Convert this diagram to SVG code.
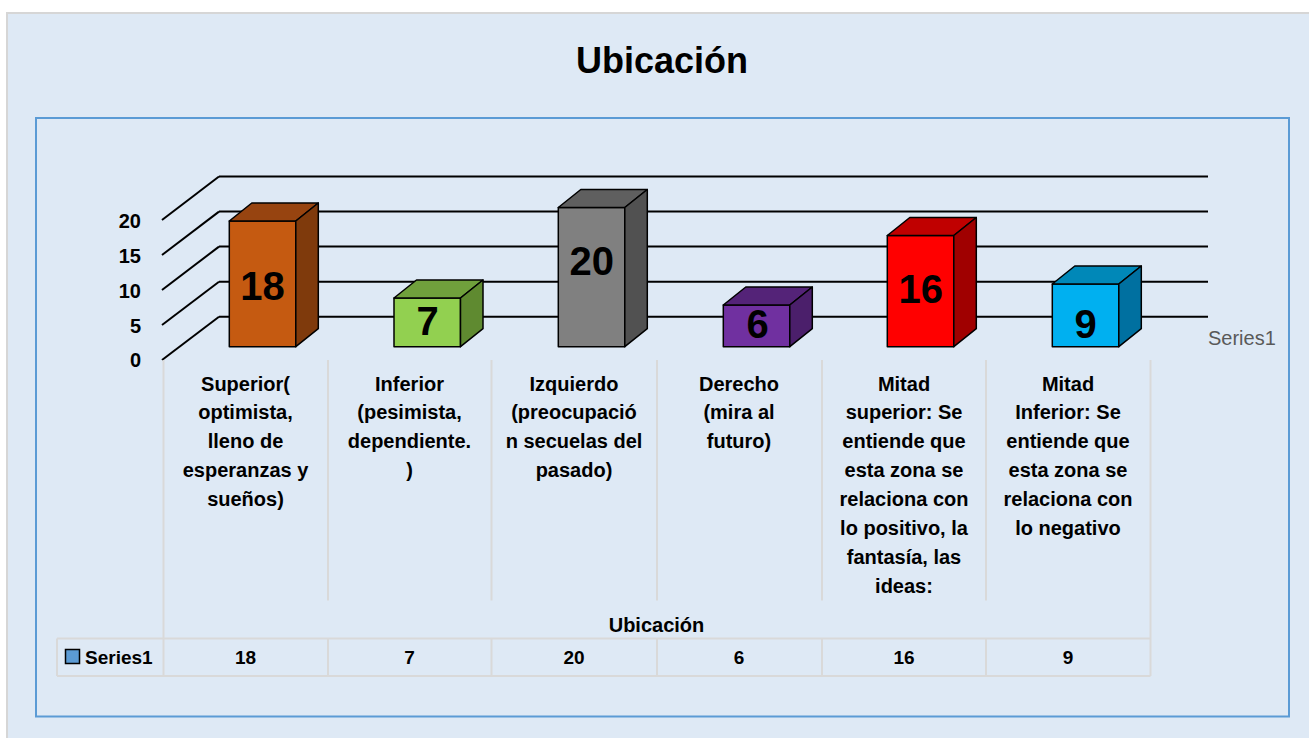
<svg xmlns="http://www.w3.org/2000/svg" width="1309" height="738" viewBox="0 0 1309 738">
<style>
text{font-family:"Liberation Sans",Arial,sans-serif;fill:#000}
.b{font-weight:bold}
.cat{font-weight:bold;font-size:20px;text-anchor:middle}
.ax{font-weight:bold;font-size:20px;text-anchor:end}
.val{font-weight:bold;font-size:19px;text-anchor:middle}
.dl{font-weight:bold;font-size:40px;text-anchor:middle}
.grid line{stroke:#000;stroke-width:2}
.tbl line{stroke:#d9d9d9;stroke-width:2}
.bar rect,.bar polygon{stroke:#000;stroke-width:1.5;stroke-linejoin:round}
</style>
<rect x="0" y="0" width="1309" height="738" fill="#ffffff"/>
<rect x="7" y="13" width="1310" height="740" fill="#dee9f5" stroke="#d6d6d6" stroke-width="2"/>
<text x="662" y="73" class="b" font-size="36" text-anchor="middle">Ubicación</text>
<rect x="36" y="118" width="1253" height="598.5" fill="none" stroke="#5b9bd5" stroke-width="2"/>

<g id="gridlines" class="grid">
<line x1="219" y1="176.5" x2="1208" y2="176.5"/>
<line x1="219" y1="211.6" x2="1208" y2="211.6"/>
<line x1="219" y1="246.6" x2="1208" y2="246.6"/>
<line x1="219" y1="281.7" x2="1208" y2="281.7"/>
<line x1="219" y1="316.7" x2="1208" y2="316.7"/>
<line x1="219" y1="176.5" x2="162" y2="220"/>
<line x1="219" y1="211.6" x2="162" y2="255"/>
<line x1="219" y1="246.6" x2="162" y2="290"/>
<line x1="219" y1="281.7" x2="162" y2="325"/>
<line x1="219" y1="316.7" x2="162" y2="360"/>
</g>

<g id="axis-labels">
<text x="141" y="228" class="ax">20</text>
<text x="141" y="263" class="ax">15</text>
<text x="141" y="298" class="ax">10</text>
<text x="141" y="332.5" class="ax">5</text>
<text x="141" y="367" class="ax">0</text>
</g>

<g id="bar-superior" class="bar">
<rect x="229.3" y="221" width="66.5" height="125.7" fill="#c55a11"/>
<polygon points="229.3,221 251.8,203 318.3,203 295.8,221" fill="#974410"/>
<polygon points="295.8,221 318.3,203 318.3,328.7 295.8,346.7" fill="#7f3a0c"/>
<text x="262.5" y="300" class="dl">18</text>
</g>
<g id="bar-inferior" class="bar">
<rect x="394" y="298" width="66.5" height="48.7" fill="#92d050"/>
<polygon points="394,298 416.5,280 483,280 460.5,298" fill="#70a03c"/>
<polygon points="460.5,298 483,280 483,328.7 460.5,346.7" fill="#5f8a30"/>
<text x="427.5" y="335" class="dl">7</text>
</g>
<g id="bar-izquierdo" class="bar">
<rect x="558.3" y="207.5" width="66.5" height="139.2" fill="#808080"/>
<polygon points="558.3,207.5 580.8,189.5 647.3,189.5 624.8,207.5" fill="#5f5f5f"/>
<polygon points="624.8,207.5 647.3,189.5 647.3,328.7 624.8,346.7" fill="#515151"/>
<text x="591.7" y="275" class="dl">20</text>
</g>
<g id="bar-derecho" class="bar">
<rect x="723.3" y="305" width="66.5" height="41.7" fill="#7030a0"/>
<polygon points="723.3,305 745.8,287 812.3,287 789.8,305" fill="#542378"/>
<polygon points="789.8,305 812.3,287 812.3,328.7 789.8,346.7" fill="#4b1f6b"/>
<text x="757.5" y="338.3" class="dl">6</text>
</g>
<g id="bar-mitad-superior" class="bar">
<rect x="887.3" y="235.5" width="66.5" height="111.2" fill="#ff0000"/>
<polygon points="887.3,235.5 909.8,217.5 976.3,217.5 953.8,235.5" fill="#c00000"/>
<polygon points="953.8,235.5 976.3,217.5 976.3,328.7 953.8,346.7" fill="#a00000"/>
<text x="920.8" y="303.3" class="dl">16</text>
</g>
<g id="bar-mitad-inferior" class="bar">
<rect x="1052.3" y="284" width="66.5" height="62.7" fill="#00b0f0"/>
<polygon points="1052.3,284 1074.8,266 1141.3,266 1118.8,284" fill="#0088b8"/>
<polygon points="1118.8,284 1141.3,266 1141.3,328.7 1118.8,346.7" fill="#0070a0"/>
<text x="1085.5" y="338.3" class="dl">9</text>
</g>

<text x="1208" y="345" font-size="20" style="fill:#595959">Series1</text>

<g id="table" class="tbl">
<line x1="163.5" y1="360" x2="163.5" y2="676"/>
<line x1="328" y1="360" x2="328" y2="600.5"/>
<line x1="491.5" y1="360" x2="491.5" y2="600.5"/>
<line x1="657" y1="360" x2="657" y2="600.5"/>
<line x1="822" y1="360" x2="822" y2="600.5"/>
<line x1="986" y1="360" x2="986" y2="600.5"/>
<line x1="1150.5" y1="360" x2="1150.5" y2="676"/>
<line x1="57" y1="638.5" x2="1150.5" y2="638.5"/>
<line x1="57" y1="676" x2="1150.5" y2="676"/>
<line x1="57" y1="638.5" x2="57" y2="676"/>
<line x1="328" y1="638.5" x2="328" y2="676"/>
<line x1="491.5" y1="638.5" x2="491.5" y2="676"/>
<line x1="657" y1="638.5" x2="657" y2="676"/>
<line x1="822" y1="638.5" x2="822" y2="676"/>
<line x1="986" y1="638.5" x2="986" y2="676"/>
</g>

<g id="categories">
<text class="cat"><tspan x="245.5" y="390.5">Superior(</tspan><tspan x="245.5" y="419.4">optimista,</tspan><tspan x="245.5" y="448.3">lleno de</tspan><tspan x="245.5" y="477.2">esperanzas y</tspan><tspan x="245.5" y="506.1">sueños)</tspan></text>
<text class="cat"><tspan x="409.5" y="390.5">Inferior</tspan><tspan x="409.5" y="419.4">(pesimista,</tspan><tspan x="409.5" y="448.3">dependiente.</tspan><tspan x="409.5" y="477.2">)</tspan></text>
<text class="cat"><tspan x="574" y="390.5">Izquierdo</tspan><tspan x="574" y="419.4">(preocupació</tspan><tspan x="574" y="448.3">n secuelas del</tspan><tspan x="574" y="477.2">pasado)</tspan></text>
<text class="cat"><tspan x="739" y="390.5">Derecho</tspan><tspan x="739" y="419.4">(mira al</tspan><tspan x="739" y="448.3">futuro)</tspan></text>
<text class="cat"><tspan x="904" y="390.5">Mitad</tspan><tspan x="904" y="419.4">superior: Se</tspan><tspan x="904" y="448.3">entiende que</tspan><tspan x="904" y="477.2">esta zona se</tspan><tspan x="904" y="506.1">relaciona con</tspan><tspan x="904" y="535">lo positivo, la</tspan><tspan x="904" y="563.9">fantasía, las</tspan><tspan x="904" y="592.8">ideas:</tspan></text>
<text class="cat"><tspan x="1068" y="390.5">Mitad</tspan><tspan x="1068" y="419.4">Inferior: Se</tspan><tspan x="1068" y="448.3">entiende que</tspan><tspan x="1068" y="477.2">esta zona se</tspan><tspan x="1068" y="506.1">relaciona con</tspan><tspan x="1068" y="535">lo negativo</tspan></text>
</g>

<text x="656.5" y="632" class="b" font-size="20" text-anchor="middle">Ubicación</text>

<g id="legend-row">
<rect x="65.5" y="649.5" width="14" height="14" fill="#5b9bd5" stroke="#000" stroke-width="1.5"/>
<text x="85" y="663.5" class="b" font-size="19">Series1</text>
<text x="245.5" y="663.5" class="val">18</text>
<text x="409.5" y="663.5" class="val">7</text>
<text x="574" y="663.5" class="val">20</text>
<text x="739" y="663.5" class="val">6</text>
<text x="904" y="663.5" class="val">16</text>
<text x="1068" y="663.5" class="val">9</text>
</g>
</svg>
